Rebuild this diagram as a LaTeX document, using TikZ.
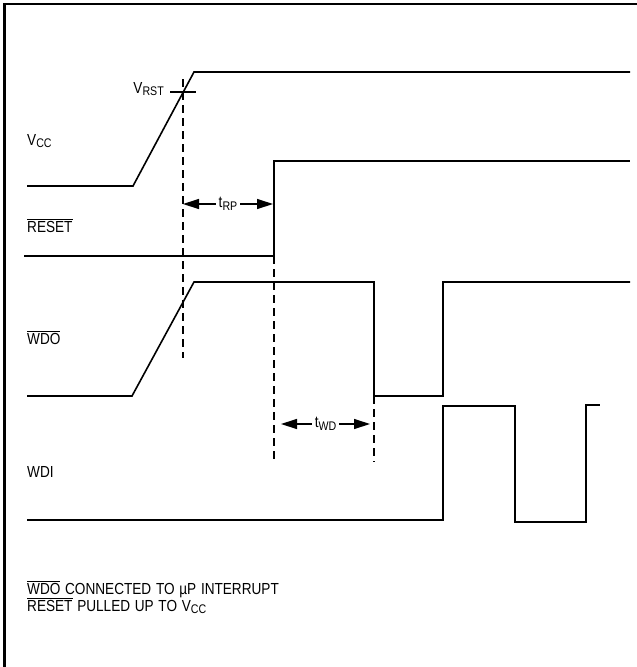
\documentclass[tikz,border=0pt]{standalone}
\usepackage{fontspec}
\setmainfont[FakeStretch=0.85, WordSpace=1.25]{Liberation Sans}
\usetikzlibrary{arrows.meta}

% lowered subscript and bar over a signal name
\newcommand{\lowsub}[1]{\raisebox{-0.35ex}{\fontsize{12.5}{12.5}\selectfont #1}}
\newcommand{\activelow}[1]{$\overline{\hbox{#1}}$}

\begin{document}
\begin{tikzpicture}[
    x=1pt, y=-1pt,
    signal/.style={line width=1.6pt, line join=miter},
    marker/.style={line width=1.4pt, dash pattern=on 8pt off 5pt},
    dim/.style={
        line width=1.3pt,
        {Triangle[length=16pt,width=10pt]}-{Triangle[length=16pt,width=10pt]},
    },
    sigtext/.style={
        font=\fontsize{16}{16}\selectfont,
        inner sep=0pt,
    },
    dimtext/.style={
        sigtext, fill=white, inner xsep=3pt, inner ysep=1pt,
    },
]
\useasboundingbox (0,0) rectangle (637,667);

% frame (top and left only)
\draw[line width=2.6pt] (4.5,667) -- (4.5,4) -- (637,4);

% key points
\coordinate (rstlevel) at (183,92);
\coordinate (rstedge) at (274,256);
\coordinate (wdoedge) at (374,396);

% waveforms
\draw[signal] (27,186) -- (133,186) -- (194,72) -- (630,72);
\draw[signal] (24,256) -- (274,256) -- (274,161) -- (630,161);
\draw[signal] (27,396) -- (132,396) -- (194,282) -- (374,282) -- (374,396)
    -- (443,396) -- (443,282) -- (630,282);
\draw[signal] (27,520) -- (443,520) -- (443,406) -- (515,406) -- (515,522)
    -- (586,522) -- (586,405) -- (600,405);

% V_RST tick
\draw[line width=1.4pt] (170,92) -- (196,92);

% dashed markers
\draw[marker] (183,79) -- (183,358);
\draw[marker] (rstedge) -- (274,462);
\draw[marker] (wdoedge) -- (374,462);

% timing intervals
\coordinate (trpL) at (183,204);
\coordinate (trpR) at (273,204);
\coordinate (twdL) at (281,424);
\coordinate (twdR) at (370,424);
\draw[dim] (trpL) -- (trpR) node[dimtext, midway] {t\lowsub{RP}};
\draw[dim] (twdL) -- (twdR) node[dimtext, midway] {t\lowsub{WD}};

% signal names
\node[sigtext, anchor=base east] (vrst) at (164,93) {V\lowsub{RST}};
\node[sigtext, anchor=base west] (vcc) at (27,145) {V\lowsub{CC}};
\node[sigtext, anchor=base west] (reset) at (27,232) {\activelow{RESET}};
\node[sigtext, anchor=base west] (wdo) at (27,344) {\activelow{WDO}};
\node[sigtext, anchor=base west] (wdi) at (27,477) {WDI};

% notes
\node[sigtext, anchor=base west] (note1) at (27,594) {\activelow{WDO} CONNECTED TO µP INTERRUPT};
\node[sigtext, anchor=base west] (note2) at (27,611) {\activelow{RESET} PULLED UP TO V\lowsub{CC}};

\end{tikzpicture}
\end{document}
